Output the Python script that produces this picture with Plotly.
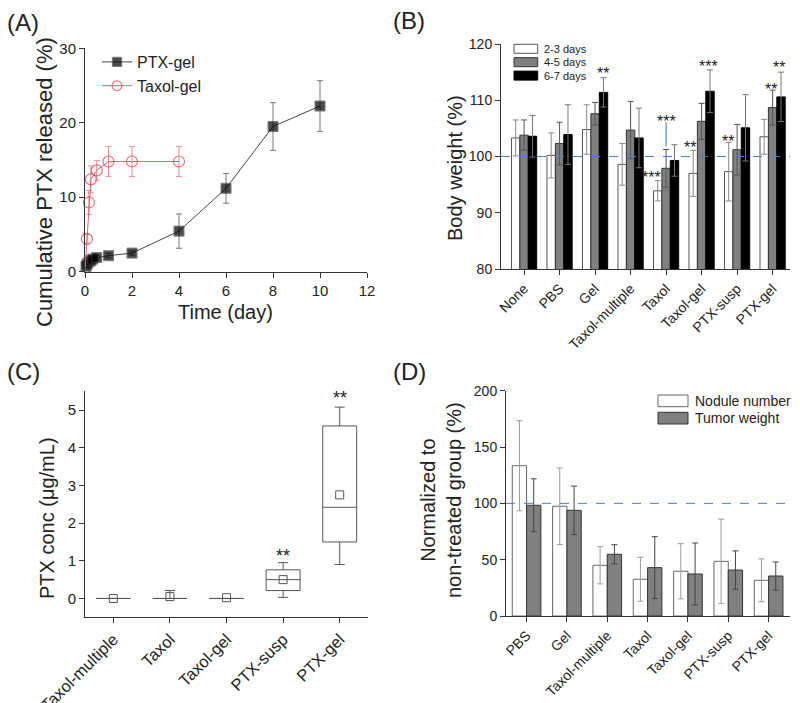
import plotly.graph_objects as go

FONT = "Liberation Sans, Arial, Helvetica, sans-serif"
W, H = 800, 703
TXT = "#222"

# ---------------- Panel A data ----------------
ptx_time = [0, 0.042, 0.083, 0.167, 0.25, 0.33, 0.5, 1, 2, 4, 6, 8, 10]
ptx_release = [0, 0.7, 1.0, 1.3, 1.5, 1.7, 1.9, 2.15, 2.5, 5.45, 11.2, 19.5, 22.25]
ptx_err = [0, 0.2, 0.3, 0.3, 0.3, 0.3, 0.3, 0.3, 0.3, 2.3, 2.0, 3.2, 3.4]
taxol_time = [0, 0.083, 0.167, 0.25, 0.5, 1, 2, 4]
taxol_release = [0, 4.4, 9.3, 12.4, 13.6, 14.8, 14.8, 14.8]
taxol_err = [0, 0.6, 1.6, 1.8, 1.3, 2.0, 2.0, 2.0]

# ---------------- Panel B data ----------------
groups_b = ["None", "PBS", "Gel", "Taxol-multiple", "Taxol", "Taxol-gel", "PTX-susp", "PTX-gel"]
bw_23 = [103.3, 100.2, 104.8, 98.6, 93.9, 97.0, 97.3, 103.5]
bw_23_err = [3.2, 4.0, 4.4, 3.7, 1.8, 4.1, 5.2, 3.1]
bw_45 = [103.8, 102.3, 107.6, 104.7, 97.9, 106.25, 101.2, 108.7]
bw_45_err = [2.7, 3.8, 2.0, 5.1, 3.35, 3.2, 4.5, 3.1]
bw_67 = [103.6, 103.9, 111.4, 103.3, 99.3, 111.6, 105.1, 110.6]
bw_67_err = [3.7, 5.3, 2.6, 5.3, 2.8, 3.8, 5.9, 4.4]
b_star_x = [2.22, 3.60, 4.0, 4.66, 5.19, 5.73, 6.96, 7.19]
b_star_y = [115.4, 96.9, 107.0, 102.4, 116.7, 103.45, 112.7, 116.5]
b_star_text = ["**", "***", "***", "**", "***", "**", "**", "**"]
b_sig_line_x = 4
b_sig_line_y = [101.8, 106.1]

# ---------------- Panel C data ----------------
groups_c = ["Taxol-multiple", "Taxol", "Taxol-gel", "PTX-susp", "PTX-gel"]
c_q1 = [0, 0, 0, 0.21, 1.50]
c_median = [0, 0, 0, 0.50, 2.42]
c_q3 = [0, 0, 0, 0.76, 4.58]
c_low = [0, 0, 0, 0.03, 0.90]
c_high = [0, 0.21, 0, 0.95, 5.08]
c_mean = [0, 0.05, 0.02, 0.50, 2.75]
c_star_x = ["PTX-susp", "PTX-gel"]
c_star_y = [1.24, 5.42]

# ---------------- Panel D data ----------------
groups_d = ["PBS", "Gel", "Taxol-multiple", "Taxol", "Taxol-gel", "PTX-susp", "PTX-gel"]
nodule = [133.4, 97.4, 45.0, 32.6, 39.7, 48.5, 31.7]
nodule_err = [40, 34, 16.5, 19.5, 24.5, 37.5, 19]
tumor = [98.3, 93.8, 54.8, 42.9, 37.3, 40.8, 35.5]
tumor_err = [23.5, 21.5, 8.5, 27.5, 27.5, 17, 12.5]

# series styles (name, fill, edge, error colour)
b_series = [("2-3 days", "white", "#555", "#888"),
            ("4-5 days", "#808080", "#333", "#555"),
            ("6-7 days", "black", "black", "#777")]
d_series = [("Nodule number", "white", "#666", "#999"),
            ("Tumor weight", "#808080", "#333", "#444")]

fig = go.Figure()

# ---- Panel A traces ----
fig.add_trace(go.Scatter(
    x=ptx_time, y=ptx_release, name="PTX-gel", mode="lines+markers",
    line=dict(color="#444", width=1),
    marker=dict(symbol="square", color="black", size=[0] + [10] * (len(ptx_time) - 1)),
    error_y=dict(type="data", array=ptx_err, color="#777", thickness=1, width=3),
    xaxis="x", yaxis="y", cliponaxis=False))
fig.add_trace(go.Scatter(
    x=taxol_time, y=taxol_release, name="Taxol-gel", mode="lines+markers",
    line=dict(color="#e8626a", width=1),
    marker=dict(symbol="circle-open", color="#e23c46", size=[0] + [11] * (len(taxol_time) - 1),
                line=dict(width=1.2)),
    error_y=dict(type="data", array=taxol_err, color="#ef8a90", thickness=1, width=3),
    xaxis="x", yaxis="y", cliponaxis=False))

# ---- Panel B traces ----
for (name, fill, edge, ecol), vals, errs in zip(
        b_series, [bw_23, bw_45, bw_67], [bw_23_err, bw_45_err, bw_67_err]):
    fig.add_trace(go.Bar(
        x=groups_b, y=vals, name=name, showlegend=False,
        marker=dict(color=fill, line=dict(color=edge, width=1)),
        error_y=dict(type="data", array=errs, color=ecol, thickness=1, width=3),
        xaxis="x2", yaxis="y2"))

# ---- Panel C traces ----
fig.add_trace(go.Box(
    x=groups_c, q1=c_q1, median=c_median, q3=c_q3, lowerfence=c_low, upperfence=c_high,
    line=dict(color="#555", width=1), fillcolor="rgba(0,0,0,0)", whiskerwidth=0.3,
    width=0.6, boxpoints=False, showlegend=False, xaxis="x3", yaxis="y3"))
fig.add_trace(go.Scatter(
    x=groups_c, y=c_mean, mode="markers", showlegend=False,
    marker=dict(symbol="square-open", color="#555", size=8, line=dict(width=1)),
    xaxis="x3", yaxis="y3", cliponaxis=False))

# ---- Panel D traces ----
for (name, fill, edge, ecol), vals, errs in zip(
        d_series, [nodule, tumor], [nodule_err, tumor_err]):
    fig.add_trace(go.Bar(
        x=groups_d, y=vals, name=name, showlegend=False,
        marker=dict(color=fill, line=dict(color=edge, width=1)),
        error_y=dict(type="data", array=errs, color=ecol, thickness=1, width=3),
        xaxis="x4", yaxis="y4"))


def ax(size=14, **kw):
    base = dict(showline=True, linecolor="#333", linewidth=1, ticks="outside", ticklen=5,
                tickcolor="#333", tickwidth=1, showgrid=False, zeroline=False,
                automargin=False, tickfont=dict(size=size, family=FONT, color=TXT))
    base.update(kw)
    return base


def dx(a, b):
    return [a / W, b / W]


def dy(top, bottom):
    return [1 - bottom / H, 1 - top / H]


fig.update_layout(
    width=W, height=H, margin=dict(l=0, r=0, t=0, b=0, autoexpand=False),
    paper_bgcolor="white", plot_bgcolor="white",
    font=dict(family=FONT, color=TXT),
    barmode="group", bargap=0.29, bargroupgap=0,
    xaxis=ax(15, domain=dx(85, 367), anchor="y", range=[0, 12], dtick=2),
    yaxis=ax(15, domain=dy(48.3, 271.7), anchor="x", range=[0, 30], dtick=10),
    xaxis2=ax(14, domain=dx(501, 790), anchor="y2", type="category", range=[-0.65, 7.49],
              tickangle=-45),
    yaxis2=ax(14, domain=dy(44, 269), anchor="x2", range=[80, 120], dtick=10),
    xaxis3=ax(16.5, domain=dx(85, 368), anchor="y3", type="category", range=[-0.5, 4.5],
              tickangle=-45),
    yaxis3=ax(15, domain=dy(391.3, 617.3), anchor="x3", range=[-0.5, 5.5], dtick=1),
    xaxis4=ax(14, domain=dx(506, 790), anchor="y4", type="category", range=[-0.51, 6.53],
              tickangle=-45),
    yaxis4=ax(14, domain=dy(390.7, 616), anchor="x4", range=[0, 200], dtick=50),
    legend=dict(x=97 / W, y=1 - 45 / H, xanchor="left", yanchor="top",
                font=dict(size=16, family=FONT, color=TXT), bgcolor="rgba(0,0,0,0)",
                tracegroupgap=0),
    showlegend=True,
)

# axis titles (paper pixel positions)
titles = [("Cumulative PTX released (%)", 44, 182, -90, 22),
          ("Time (day)", 226, 312, 0, 20),
          ("Body weight (%)", 455, 168, -90, 20),
          ("PTX conc (μg/mL)", 47, 518, -90, 20),
          ("Normalized to<br>non-treated group (%)", 441, 500, -90, 20)]
for t, px, py, ang, fs in titles:
    fig.add_annotation(x=px / W, y=1 - py / H, xref="paper", yref="paper", text=t,
                       textangle=ang, showarrow=False, xanchor="center", yanchor="middle",
                       font=dict(size=fs, family=FONT, color=TXT))

# manual legends for B and D (swatch boxes + labels)
legend_b = dict(x=514, y0=44.3, w=23.7, h=9, step=13.4, tx=541.5, fs=11)
legend_d = dict(x=658, y0=395, w=30, h=11.7, step=17.3, tx=692.5, fs=14)
for spec, series in [(legend_b, b_series), (legend_d, d_series)]:
    for i, (name, fill, edge, _) in enumerate(series):
        top = spec["y0"] + i * spec["step"]
        fig.add_shape(type="rect", xref="paper", yref="paper",
                      x0=spec["x"] / W, x1=(spec["x"] + spec["w"]) / W,
                      y0=1 - (top + spec["h"]) / H, y1=1 - top / H,
                      fillcolor=fill, line=dict(color=edge, width=1), layer="above")
        fig.add_annotation(x=spec["tx"] / W, y=1 - (top + spec["h"] / 2) / H,
                           xref="paper", yref="paper", text=name, showarrow=False,
                           xanchor="left", yanchor="middle",
                           font=dict(size=spec["fs"], family=FONT, color=TXT))

# reference lines at 100 %
for xr, yr in [("x2 domain", "y2"), ("x4 domain", "y4")]:
    fig.add_shape(type="line", xref=xr, yref=yr, x0=0, x1=1, y0=100, y1=100,
                  line=dict(color="#4f7cc0", width=1, dash="dash"), layer="above")
fig.add_shape(type="line", xref="x2", yref="y2", x0=b_sig_line_x, x1=b_sig_line_x,
              y0=b_sig_line_y[0], y1=b_sig_line_y[1],
              line=dict(color="#5b84c4", width=1.2), layer="above")

# significance stars
for xv, yv, t in zip(b_star_x, b_star_y, b_star_text):
    fig.add_annotation(x=xv, y=yv, xref="x2", yref="y2", text=t, showarrow=False,
                       font=dict(size=16, family=FONT, color=TXT), yshift=-4)
for xv, yv in zip(c_star_x, c_star_y):
    fig.add_annotation(x=xv, y=yv, xref="x3", yref="y3", text="**", showarrow=False,
                       font=dict(size=18, family=FONT, color=TXT), yshift=-4)

# panel labels
for lab, px, py in [("(A)", 23, 23), ("(B)", 409, 21), ("(C)", 23, 371), ("(D)", 409, 371)]:
    fig.add_annotation(x=px / W, y=1 - py / H, xref="paper", yref="paper", text=lab,
                       showarrow=False, xanchor="center", yanchor="middle",
                       font=dict(size=24, family=FONT, color=TXT))

# remove the default 8px page margin so the figure sits at the window origin
fig.write_html("out.html", config={"displayModeBar": False},
               post_script="document.body.style.margin='0';")
